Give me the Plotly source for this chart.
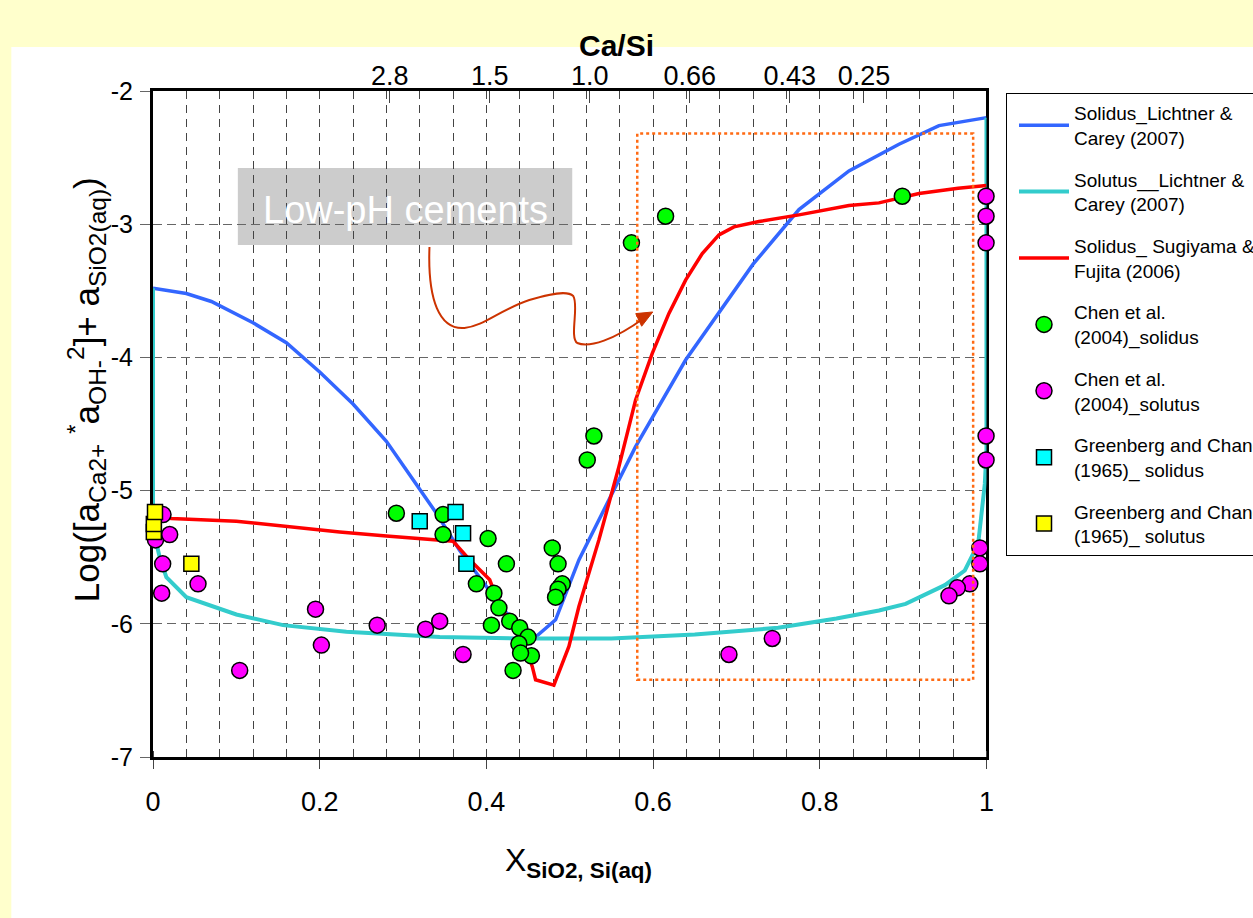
import plotly.graph_objects as go

# ---- curves ----
solidus_lc_x = [0.0, 0.04, 0.07, 0.12, 0.16, 0.20, 0.24, 0.28, 0.31, 0.34, 0.368, 0.40, 0.416,
                0.44, 0.459, 0.483, 0.511, 0.523, 0.579, 0.639, 0.679, 0.72, 0.775, 0.835,
                0.895, 0.943, 1.0]
solidus_lc_y = [-3.48, -3.52, -3.58, -3.74, -3.89, -4.11, -4.35, -4.63, -4.90, -5.17, -5.45, -5.72,
                -5.87, -6.01, -6.10, -5.97, -5.52, -5.37, -4.67, -4.02, -3.67, -3.30, -2.89,
                -2.60, -2.40, -2.26, -2.20]

solutus_lc_x = [0.0, 0.0, 0.0024, 0.008, 0.016, 0.04, 0.10, 0.156, 0.232, 0.344, 0.45, 0.55, 0.65,
                0.75, 0.82, 0.871, 0.903, 0.95, 0.974, 0.990, 0.998, 1.0, 1.0]
solutus_lc_y = [-3.48, -5.20, -5.35, -5.50, -5.65, -5.80, -5.93, -6.01, -6.06, -6.10, -6.11, -6.11,
                -6.08, -6.03, -5.96, -5.90, -5.85, -5.71, -5.60, -5.40, -4.95, -4.70, -2.20]

solidus_sf_x = [0.0, 0.022, 0.10, 0.16, 0.192, 0.224, 0.28, 0.34, 0.36, 0.38, 0.404, 0.416, 0.44,
                0.455, 0.459, 0.481, 0.499, 0.511, 0.535, 0.559, 0.579, 0.599, 0.619, 0.639,
                0.659, 0.679, 0.697, 0.727, 0.775, 0.835, 0.871, 0.919, 0.966, 1.0]
solidus_sf_y = [-5.19, -5.21, -5.23, -5.27, -5.29, -5.31, -5.34, -5.37, -5.38, -5.52, -5.67, -5.87,
                -6.07, -6.32, -6.42, -6.46, -6.17, -5.87, -5.37, -4.82, -4.32, -3.97, -3.67,
                -3.42, -3.22, -3.08, -3.02, -2.98, -2.93, -2.86, -2.84, -2.77, -2.73, -2.71]

# ---- measured points ----
chen_solidus_x = [0.292, 0.348, 0.348, 0.402, 0.479, 0.424, 0.486, 0.388, 0.491, 0.486, 0.483,
                  0.409, 0.415, 0.406, 0.428, 0.440, 0.450, 0.439, 0.454, 0.441, 0.432,
                  0.615, 0.574, 0.529, 0.521, 0.899]
chen_solidus_y = [-5.17, -5.18, -5.33, -5.36, -5.43, -5.55, -5.55, -5.70, -5.70, -5.74, -5.80,
                  -5.77, -5.88, -6.01, -5.98, -6.03, -6.10, -6.15, -6.24, -6.22, -6.35,
                  -2.94, -3.14, -4.59, -4.77, -2.79]

chen_solutus_x = [0.003, 0.012, 0.020, 0.0116, 0.0104, 0.054, 0.195, 0.202, 0.104, 0.269, 0.327,
                  0.344, 0.372, 0.691, 0.743, 0.9995, 0.9995, 0.9995, 0.9995, 0.9995, 0.992,
                  0.992, 0.980, 0.965, 0.955]
chen_solutus_y = [-5.37, -5.18, -5.33, -5.55, -5.77, -5.70, -5.89, -6.16, -6.35, -6.01, -6.04,
                  -5.98, -6.23, -6.23, -6.11, -2.79, -2.94, -3.14, -4.59, -4.77, -5.43,
                  -5.55, -5.70, -5.73, -5.79]

gc_solidus_x = [0.320, 0.363, 0.372, 0.376]
gc_solidus_y = [-5.23, -5.16, -5.32, -5.55]

gc_solutus_x = [0.001, 0.001, 0.0024, 0.046]
gc_solutus_y = [-5.31, -5.25, -5.16, -5.55]

# ---- axes ----
x_ticks = [0, 0.2, 0.4, 0.6, 0.8, 1]
x_ticktext = ["0", "0.2", "0.4", "0.6", "0.8", "1"]
y_ticks = [-7, -6, -5, -4, -3, -2]
y_ticktext = ["-7", "-6", "-5", "-4", "-3", "-2"]
ca_si_pos = [0.284, 0.404, 0.524, 0.644, 0.764, 0.853]
ca_si_text = ["2.8", "1.5", "1.0", "0.66", "0.43", "0.25"]

NARROW = "Liberation Sans Narrow, Arial Narrow, Liberation Sans, Arial, sans-serif"
LEG_FONT = "Liberation Sans, Arial, sans-serif"

fig = go.Figure()

fig.add_trace(go.Scatter(x=solidus_lc_x, y=solidus_lc_y, mode="lines",
                         name="Solidus_Lichtner &<br>Carey (2007)",
                         line=dict(color="#3366FF", width=3.5), legendgroup="a"))
fig.add_trace(go.Scatter(x=solutus_lc_x, y=solutus_lc_y, mode="lines",
                         name="Solutus__Lichtner &<br>Carey (2007)",
                         line=dict(color="#33CCCC", width=4), legendgroup="b"))
fig.add_trace(go.Scatter(x=solidus_sf_x, y=solidus_sf_y, mode="lines",
                         name="Solidus_ Sugiyama &<br>Fujita (2006)",
                         line=dict(color="#FF0000", width=3.5), legendgroup="c"))

marker_line = dict(color="black", width=1.5)
fig.add_trace(go.Scatter(x=chen_solidus_x, y=chen_solidus_y, mode="markers",
                         name="Chen et al.<br>(2004)_solidus", cliponaxis=False,
                         marker=dict(symbol="circle", size=16, color="#00FF00", line=marker_line),
                         legendgroup="d"))
fig.add_trace(go.Scatter(x=chen_solutus_x, y=chen_solutus_y, mode="markers",
                         name="Chen et al.<br>(2004)_solutus", cliponaxis=False,
                         marker=dict(symbol="circle", size=16, color="#FF00FF", line=marker_line),
                         legendgroup="e"))
fig.add_trace(go.Scatter(x=gc_solidus_x, y=gc_solidus_y, mode="markers",
                         name="Greenberg and Chang<br>(1965)_ solidus", cliponaxis=False,
                         marker=dict(symbol="square", size=15, color="#00FFFF", line=marker_line),
                         legendgroup="f"))
fig.add_trace(go.Scatter(x=gc_solutus_x, y=gc_solutus_y, mode="markers",
                         name="Greenberg and Chang<br>(1965)_ solutus", cliponaxis=False,
                         marker=dict(symbol="square", size=15, color="#FFFF00", line=marker_line),
                         legendgroup="g"))

# invisible trace that carries the top Ca/Si axis
fig.add_trace(go.Scatter(x=[0, 1], y=[-7, -7], xaxis="x2", mode="markers",
                         marker=dict(opacity=0), showlegend=False, hoverinfo="skip"))

shapes = [
    # white panel over the yellow page
    dict(type="rect", xref="paper", yref="paper", x0=-0.170, x1=1.40, y0=-0.30, y1=1.066,
         fillcolor="white", line=dict(width=0), layer="below"),
    # grey label box
    dict(type="rect", xref="x", yref="y", x0=0.1018, x1=0.503, y0=-3.156, y1=-2.578,
         fillcolor="#CCCCCC", line=dict(width=0), layer="below"),
    # dotted low-pH region
    dict(type="rect", xref="x", yref="y", x0=0.581, x1=0.984, y0=-6.42, y1=-2.32,
         line=dict(color="#FF6A13", width=2.5, dash="dot"), fillcolor="rgba(0,0,0,0)",
         layer="above"),
    # curved arrow
    dict(type="path", xref="x", yref="y",
         path=("M0.3317,-3.171 C0.3293,-3.569 0.3437,-3.794 0.3737,-3.779 "
               "C0.3976,-3.764 0.4156,-3.644 0.4515,-3.569 "
               "C0.4754,-3.524 0.4970,-3.494 0.5042,-3.539 "
               "C0.5114,-3.607 0.4994,-3.854 0.5090,-3.892 "
               "C0.5234,-3.929 0.5533,-3.869 0.5892,-3.704"),
         line=dict(color="#CC3300", width=2), layer="above"),
    dict(type="path", xref="x", yref="y",
         path="M0.5996,-3.659 L0.5863,-3.766 L0.5792,-3.671 Z",
         fillcolor="#CC3300", line=dict(color="#CC3300", width=1), layer="above"),
]

annotations = [
    dict(text="Low-pH cements", x=0.303, y=-2.893, xref="x", yref="y", showarrow=False,
         font=dict(family="Liberation Sans, Arial, sans-serif", size=38, color="white")),
    dict(text="<b>Ca/Si</b>", x=0.5557, y=1.096, xref="paper", yref="paper", showarrow=False,
         font=dict(family=NARROW, size=30, color="black")),
    dict(text="Log([a<sub>Ca2+</sub> <sup>*</sup>a<sub>OH-</sub><sup>2</sup>]+ a<sub>SiO2(aq)</sub>)",
         x=-0.112, y=0.551, xref="paper", yref="paper", showarrow=False, textangle=-90,
         font=dict(family=NARROW, size=35, color="black")),
    dict(text="X<sub><b>SiO2, Si(aq)</b></sub>", x=0.51, y=-0.192, xref="paper", yref="paper",
         showarrow=False, font=dict(family=NARROW, size=32, color="black")),
]

fig.update_layout(
    width=1253, height=918,
    margin=dict(l=153, r=265, t=91, b=161),
    paper_bgcolor="#FFFFCC",
    plot_bgcolor="white",
    shapes=shapes,
    annotations=annotations,
    showlegend=True,
    legend=dict(xref="container", x=1006 / 1253, yref="paper", y=0.997,
                xanchor="left", yanchor="top",
                bgcolor="white", bordercolor="black", borderwidth=1,
                font=dict(family=LEG_FONT, size=19, color="black"),
                itemwidth=50, indentation=7, tracegroupgap=14, traceorder="grouped"),
    xaxis=dict(range=[0, 1], tickvals=x_ticks, ticktext=x_ticktext,
               showline=True, linecolor="black", linewidth=3, mirror=True,
               ticks="outside", ticklen=9, tickwidth=1, tickcolor="#444",
               ticklabelstandoff=10,
               tickfont=dict(family=NARROW, size=27, color="black"),
               showgrid=True, gridcolor="#444", gridwidth=1, griddash="8px,6px",
               minor=dict(dtick=0.04, tick0=0, showgrid=True, gridcolor="#444", gridwidth=1,
                          griddash="8px,6px", ticks="inside", ticklen=6, tickcolor="#444"),
               zeroline=False, layer="below traces", fixedrange=True),
    xaxis2=dict(range=[0, 1], overlaying="x", side="top", tickvals=ca_si_pos,
                ticktext=ca_si_text, ticks="inside", ticklen=12, tickcolor="#444",
                tickfont=dict(family=NARROW, size=27, color="black"),
                showgrid=False, showline=False, zeroline=False,
                minor=dict(dtick=0.04, tick0=0, ticks="inside", ticklen=6, tickcolor="#444"),
                layer="below traces"),
    yaxis=dict(range=[-7, -2], tickvals=y_ticks, ticktext=y_ticktext,
               showline=True, linecolor="black", linewidth=3, mirror=True,
               ticks="outside", ticklen=10, tickcolor="#666",
               ticklabelstandoff=2,
               tickfont=dict(family=NARROW, size=25, color="black"),
               showgrid=True, gridcolor="#666", gridwidth=1, griddash="9px,5px",
               zeroline=False, layer="below traces"),
)

fig.write_html("out.html")
